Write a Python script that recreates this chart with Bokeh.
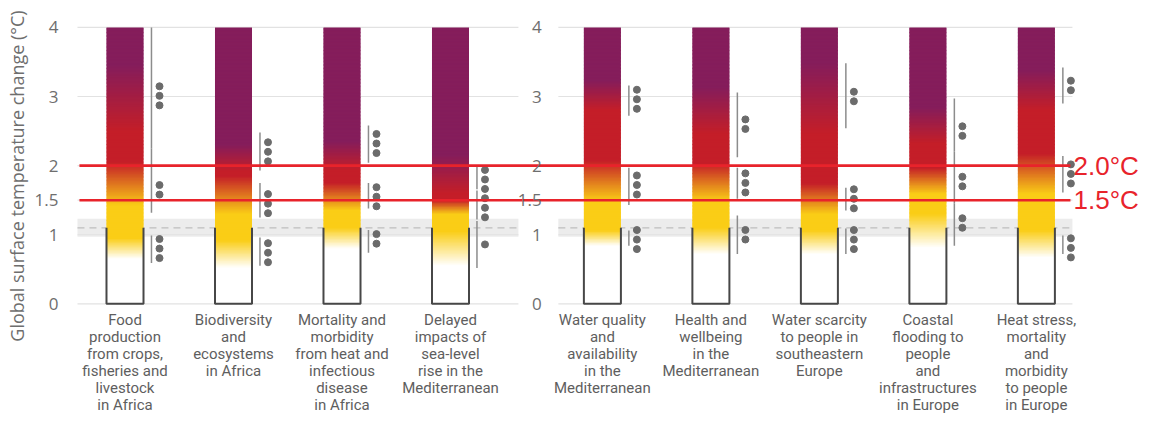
import numpy as np
from bokeh.plotting import figure
from bokeh.models import Range1d, FixedTicker
from bokeh.embed import file_html
from bokeh.resources import INLINE
from bokeh.core.properties import value

# ---------------- data ----------------
left_labels = [
    "Food\nproduction\nfrom crops,\nfisheries and\nlivestock\nin Africa",
    "Biodiversity\nand\necosystems\nin Africa",
    "Mortality and\nmorbidity\nfrom heat and\ninfectious\ndisease\nin Africa",
    "Delayed\nimpacts of\nsea-level\nrise in the\nMediterranean",
]
right_labels = [
    "Water quality\nand\navailability\nin the\nMediterranean",
    "Health and\nwellbeing\nin the\nMediterranean",
    "Water scarcity\nto people in\nsoutheastern\nEurope",
    "Coastal\nflooding to\npeople\nand\ninfrastructures\nin Europe",
    "Heat stress,\nmortality\nand\nmorbidity\nto people\nin Europe",
]

# gradient transition points (°C) for each key risk, left panel then right panel
white_end    = [0.65, 0.52, 0.80, 0.55, 0.84, 0.72, 0.72, 0.81, 0.67]
yellow_start = [0.95, 0.92, 1.10, 1.05, 1.06, 1.10, 1.06, 1.30, 1.06]
yellow_end   = [1.42, 1.30, 1.35, 1.30, 1.49, 1.49, 1.30, 1.59, 1.59]
red_start    = [2.05, 1.85, 1.75, 1.50, 2.07, 2.03, 1.74, 1.97, 2.17]
red_end      = [2.50, 1.92, 1.93, 1.60, 2.80, 2.46, 2.46, 2.32, 2.80]
purple_start = [3.45, 2.30, 2.35, 2.15, 3.23, 3.13, 3.48, 2.84, 3.38]

# confidence ranges: undetectable->moderate (t1), moderate->high (t2), high->very high (t3)
t1_lo  = [0.59, 0.55, 0.74, 0.52, 0.84, 0.72, 0.72, 0.84, 0.72]
t1_hi  = [0.99, 0.96, 1.07, 1.20, 1.06, 1.28, 1.09, 1.45, 0.99]
t1_mid = [0.80, 0.74, 0.94, 0.86, 0.93, 1.00, 0.93, 1.17, 0.81]
t1_n   = [3, 3, 2, 1, 3, 2, 3, 2, 3]

t2_lo  = [1.32, 1.25, 1.38, 1.22, 1.43, 1.52, 1.35, 1.45, 1.61]
t2_hi  = [2.25, 1.75, 1.75, 1.64, 1.97, 1.97, 1.68, 2.20, 2.14]
t2_mid = [1.65, 1.45, 1.55, 1.39, 1.72, 1.75, 1.52, 1.77, 1.88]
t2_n   = [2, 3, 3, 3, 3, 3, 3, 2, 3]

t3_lo  = [2.25, 1.93, 2.04, 1.66, 2.72, 2.12, 2.54, 2.20, 2.90]
t3_hi  = [4.00, 2.48, 2.58, 2.00, 3.16, 3.06, 3.48, 2.97, 3.42]
t3_mid = [3.01, 2.20, 2.32, 1.80, 2.96, 2.60, 3.00, 2.50, 3.16]
t3_n   = [3, 3, 3, 3, 3, 2, 2, 2, 2]

present_lo, present_mid, present_hi = 0.97, 1.10, 1.23
outline_top = 1.10
bar_top = 4.0
levels = [1.5, 2.0]
level_labels = ["1.5°C", "2.0°C"]
tick_values = [0, 1, 1.5, 2, 3, 4]
tick_labels = ["0", "1", "1.5", "2", "3", "4"]

# ---------------- layout ----------------
n_left, n_right = len(left_labels), len(right_labels)
left_x = [5 * i for i in range(n_left)]
right_x = [22 + 5 * i for i in range(n_right)]
xs = left_x + right_x
labels = left_labels + right_labels
hw = 0.853
line_off, dot_off = 1.22, 1.59
dot_step = 0.138

WHITE = np.array([255, 255, 255.0])
YELLOW = np.array([250, 205, 22.0])
RED = np.array([196, 30, 40.0])
PURPLE = np.array([133, 29, 91.0])


def lerp(a, b, t):
    return a + (b - a) * t


def color_at(v, i):
    w, ys, ye, rs, re, ps = (white_end[i], yellow_start[i], yellow_end[i],
                             red_start[i], red_end[i], purple_start[i])
    if v <= w:
        c = WHITE
    elif v < ys:
        c = lerp(WHITE, YELLOW, (v - w) / (ys - w))
    elif v <= ye:
        c = YELLOW
    elif v < rs:
        c = lerp(YELLOW, RED, (v - ye) / (rs - ye))
    elif v <= re:
        c = RED
    elif v < ps:
        c = lerp(RED, PURPLE, (v - re) / (ps - re))
    else:
        c = PURPLE
    r, g, b = [int(round(x)) for x in c]
    return "#%02x%02x%02x" % (r, g, b)


p = figure(width=1151, height=421, output_backend="svg", toolbar_location=None,
           x_range=Range1d(-2.235, 47.305), y_range=Range1d(-0.4, 4.1),
           min_border_left=76, min_border_right=0, min_border_top=20, min_border_bottom=90)
p.outline_line_color = None
p.xgrid.visible = False
p.ygrid.visible = False
p.background_fill_color = "white"

panels = [(left_x[0] - 2.19, left_x[-1] + 3.13), (right_x[0] - 2.03, right_x[-1] + 1.66)]

# grid lines and present-day band
for (x0, x1) in panels:
    p.quad(left=[x0], right=[x1], bottom=[present_lo], top=[present_hi],
           fill_color="#ececec", line_color=None)
    p.segment(x0=[x0] * len(tick_values), x1=[x1] * len(tick_values),
              y0=tick_values, y1=tick_values, line_color="#e2e2e2", line_width=1.2)
    p.segment(x0=[x0], x1=[x1], y0=[present_mid], y1=[present_mid],
              line_color="#bdbdbd", line_width=1.3, line_dash="7 5")

# gradient bars (thin overlapping slices)
step = 0.02
edges = np.arange(0, bar_top + 1e-9, step)
L, R, B, T, C = [], [], [], [], []
for i, x in enumerate(xs):
    for k in range(len(edges) - 1):
        b, t = edges[k], edges[k + 1]
        L.append(x - hw); R.append(x + hw); B.append(b)
        T.append(min(t + 0.6 * step, bar_top))
        C.append(color_at((b + t) / 2, i))
p.quad(left=L, right=R, bottom=B, top=T, fill_color=C, line_color=None)

# outline bracket of the bars below present-day warming
mx, my = [], []
for x in xs:
    mx.append([x - hw, x - hw, x + hw, x + hw])
    my.append([outline_top, 0, 0, outline_top])
p.multi_line(mx, my, line_color="#474747", line_width=2)

# confidence ranges and dots
seg_x, seg_y0, seg_y1, dx, dy = [], [], [], [], []
for i, x in enumerate(xs):
    for lo, hi, mid, n in ((t1_lo[i], t1_hi[i], t1_mid[i], t1_n[i]),
                           (t2_lo[i], t2_hi[i], t2_mid[i], t2_n[i]),
                           (t3_lo[i], t3_hi[i], t3_mid[i], t3_n[i])):
        seg_x.append(x + line_off); seg_y0.append(lo); seg_y1.append(hi)
        for k in range(n):
            dx.append(x + dot_off)
            dy.append(mid + ((n - 1) / 2 - k) * dot_step)
p.segment(x0=seg_x, x1=seg_x, y0=seg_y0, y1=seg_y1, line_color="#8c8c8c", line_width=1.5)
p.scatter(dx, dy, size=7, fill_color="#6b6b6b", line_color="#6b6b6b")

# red warming levels
red = "#e8232b"
p.segment(x0=[panels[0][0] + 0.09] * 2, x1=[panels[1][1] - 0.09] * 2, y0=levels, y1=levels,
          line_color=red, line_width=2.6)
p.text(x=[panels[1][1] + 0.05] * 2, y=levels, text=level_labels, text_color=red,
       text_font=value("Liberation Sans"), text_font_size="26px",
       text_align="left", text_baseline="middle")

# y-axis tick labels of the right panel
p.text(x=[right_x[0] - 2.8] * len(tick_values), y=tick_values, text=tick_labels,
       text_color="#6e6e6e", text_font=value("Open Sans"), text_font_size="17px",
       text_align="right", text_baseline="middle")

# axes
ya = p.yaxis[0]
ya.ticker = FixedTicker(ticks=tick_values)
ya.major_label_overrides = {v: s for v, s in zip(tick_values, tick_labels)}
ya.axis_line_color = None
ya.major_tick_line_color = None
ya.minor_tick_line_color = None
ya.major_label_standoff = 12
ya.major_label_text_font = "Open Sans"
ya.major_label_text_font_size = "17px"
ya.major_label_text_color = "#6e6e6e"
ya.axis_label = "Global surface temperature change (°C)"
ya.axis_label_text_font = "Open Sans"
ya.axis_label_text_font_size = "18px"
ya.axis_label_text_font_style = "normal"
ya.axis_label_text_color = "#6e6e6e"
ya.axis_label_standoff = 3

xa = p.xaxis[0]
xa.ticker = FixedTicker(ticks=xs)
xa.major_label_overrides = {x: s for x, s in zip(xs, labels)}
xa.axis_line_color = None
xa.major_tick_line_color = None
xa.minor_tick_line_color = None
xa.major_label_standoff = -27
xa.major_label_text_font = "Roboto"
xa.major_label_text_font_size = "15px"
xa.major_label_text_color = "#5e5e5e"
xa.major_label_text_line_height = 0.95

open("out.html", "w").write(file_html(p, INLINE))
